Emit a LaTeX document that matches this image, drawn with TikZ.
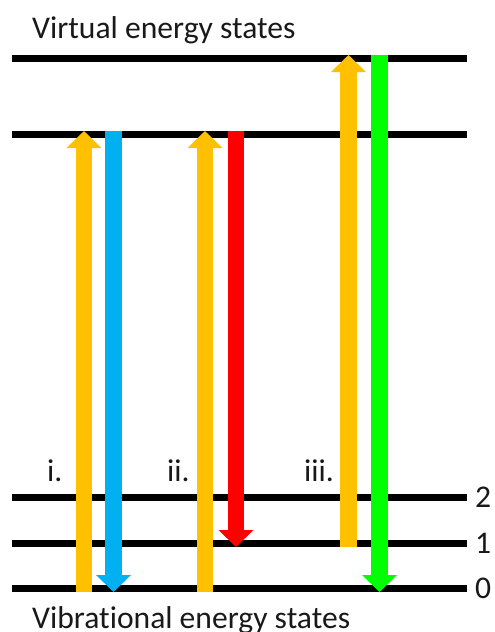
\documentclass[tikz,border=0pt]{standalone}
\usepackage{fontspec}
\setmainfont{Carlito}[Ligatures={NoCommon}]
\usetikzlibrary{arrows.meta}
\definecolor{excite}{HTML}{FFC000}
\definecolor{rayleigh}{HTML}{00B0F0}
\definecolor{stokes}{HTML}{FF0000}
\definecolor{antistokes}{HTML}{00FF00}
\tikzset{
  level/.style={line width=7pt, black},
  photon/.style={line width=16.5pt, -{Triangle[width=34pt,length=17pt]}},
  lbl/.style={font=\fontsize{31.6}{31.6}\selectfont, anchor=base west, inner sep=0pt, text=black!90}
}
\begin{document}
\begin{tikzpicture}[x=1pt,y=-1pt]
\useasboundingbox (0,0) rectangle (495,632);
% energy levels
\coordinate (v2L) at (12,58);   \coordinate (v2R) at (467,58);
\coordinate (v1L) at (12,134);  \coordinate (v1R) at (467,134);
\coordinate (g2L) at (12,497);  \coordinate (g2R) at (467,497);
\coordinate (g1L) at (12,543);  \coordinate (g1R) at (467,543);
\coordinate (g0L) at (12,588.5);\coordinate (g0R) at (467,588.5);
\foreach \n in {v2,v1,g2,g1,g0} \draw[level] (\n L) -- (\n R);
% level labels
\node[lbl] (vt) at (32,38) {Virtual energy states};
\node[lbl] (vb) at (32,628) {Vibrational energy states};
\node[lbl] (n2) at (475,507) {2};
\node[lbl] (n1) at (475,553) {1};
\node[lbl] (n0) at (475,598.5) {0};
\node[lbl] (li) at (47,481) {i.};
\node[lbl] (lii) at (167,481) {ii.};
\node[lbl] (liii) at (304,481) {iii.};
% i. Rayleigh
\coordinate (a1s) at (84,592);  \coordinate (a1e) at (84,131);
\coordinate (b1s) at (113.5,131); \coordinate (b1e) at (113.5,592);
\draw[photon, excite] (a1s) -- (a1e);
\draw[photon, rayleigh] (b1s) -- (b1e);
% ii. Stokes
\coordinate (a2s) at (205,592); \coordinate (a2e) at (205,131);
\coordinate (b2s) at (236,131); \coordinate (b2e) at (236,547);
\draw[photon, excite] (a2s) -- (a2e);
\draw[photon, stokes] (b2s) -- (b2e);
% iii. anti-Stokes
\coordinate (a3s) at (348.5,546.5); \coordinate (a3e) at (348.5,55);
\coordinate (b3s) at (379.5,55); \coordinate (b3e) at (379.5,592);
\draw[photon, excite] (a3s) -- (a3e);
\draw[photon, antistokes] (b3s) -- (b3e);
\end{tikzpicture}
\end{document}
